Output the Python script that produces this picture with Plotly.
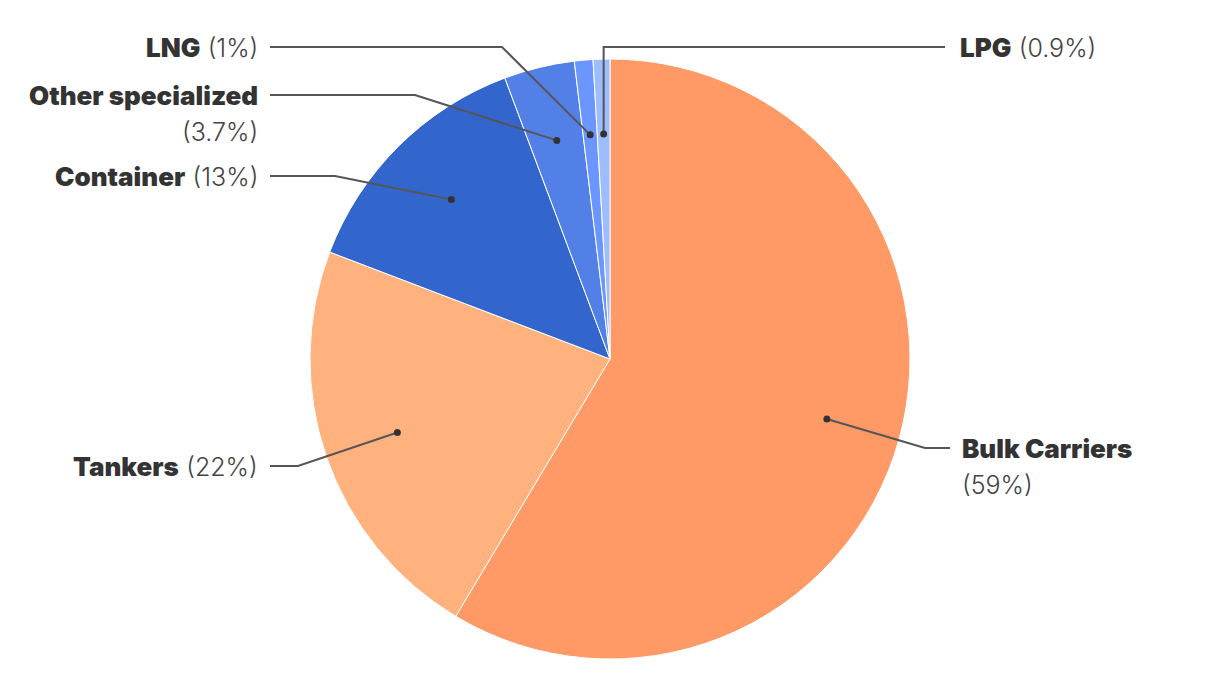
import math
import plotly.graph_objects as go

categories = ["Bulk Carriers", "Tankers", "Container", "Other specialized", "LNG", "LPG"]
values = [58.6, 22.2, 13.5, 3.8, 1.0, 0.9]
pct_labels = ["59%", "22%", "13%", "3.7%", "1%", "0.9%"]
colors = ["#FF9966", "#FFB27D", "#3366CC", "#5280E6", "#6B96FF", "#9DBDFF"]

W, H = 1220, 700
OFF = 8  # page offset of the figure div
CX, CY, R = 610, 359, 300

# label layout in screen pixels
label_layout = {
    "Bulk Carriers": dict(tx=960, ty=448, side="left", ex=925, lx=950, two=True),
    "Tankers": dict(tx=260, ty=466, side="right", ex=298, lx=270, two=False),
    "Container": dict(tx=260, ty=176, side="right", ex=335, lx=270, two=False),
    "Other specialized": dict(tx=260, ty=95, side="right", ex=415, lx=270, two=True),
    "LNG": dict(tx=260, ty=47, side="right", ex=502, lx=270, two=False),
    "LPG": dict(tx=958, ty=47, side="left", ex=None, lx=945, two=False),
}

def px(x):
    return (x - OFF) / W

def py(y):
    return 1 - (y - OFF) / H

fig = go.Figure()
fig.add_trace(go.Pie(
    labels=categories, values=values, sort=False, direction="clockwise", rotation=0,
    marker=dict(colors=colors, line=dict(color="white", width=1)),
    textinfo="none", hoverinfo="label+percent", showlegend=False,
    domain=dict(x=[px(CX - R), px(CX + R)], y=[py(CY + R), py(CY - R)]),
))

total = sum(values)
cum = 0.0
shapes = []
annotations = []
fam = "Inter, 'Open Sans', sans-serif"
for cat, v, pl in zip(categories, values, pct_labels):
    mid = (cum + v / 2) / total * 2 * math.pi
    cum += v
    dx = CX + 0.75 * R * math.sin(mid)
    dy = CY - 0.75 * R * math.cos(mid)
    L = label_layout[cat]
    ex = L["ex"] if L["ex"] is not None else dx
    ey = L["ty"]
    shapes.append(dict(type="path", xref="paper", yref="paper",
                       path=f"M {px(L['lx'])} {py(ey)} L {px(ex)} {py(ey)} L {px(dx)} {py(dy)}",
                       line=dict(color="#555555", width=2)))
    shapes.append(dict(type="circle", xref="paper", yref="paper",
                       x0=px(dx - 3.5), x1=px(dx + 3.5), y0=py(dy - 3.5), y1=py(dy + 3.5),
                       fillcolor="#333333", line=dict(color="#333333", width=0)))
    name_txt = f"<span style='font-weight:900;font-size:26px'>{cat}</span>"
    pct_txt = f"<span style='font-weight:300;font-size:25px;color:#444444'>({pl})</span>"
    xanchor = "right" if L["side"] == "right" else "left"
    if L["two"]:
        annotations.append(dict(x=px(L["tx"]), y=py(L["ty"]), xref="paper", yref="paper",
                                text=name_txt, showarrow=False, xanchor=xanchor, yanchor="middle",
                                font=dict(size=26, color="#333333", family=fam)))
        annotations.append(dict(x=px(L["tx"]), y=py(L["ty"] + 37), xref="paper", yref="paper",
                                text=pct_txt, showarrow=False, xanchor=xanchor, yanchor="middle",
                                font=dict(size=25, color="#444444", family=fam)))
    else:
        annotations.append(dict(x=px(L["tx"]), y=py(L["ty"]), xref="paper", yref="paper",
                                text=name_txt + " " + pct_txt,
                                showarrow=False, xanchor=xanchor, yanchor="middle",
                                font=dict(size=26, color="#333333", family=fam)))

fig.update_layout(
    width=W, height=H, margin=dict(l=0, r=0, t=0, b=0),
    paper_bgcolor="white", plot_bgcolor="white",
    shapes=shapes, annotations=annotations,
)
fig.write_html("out.html")
